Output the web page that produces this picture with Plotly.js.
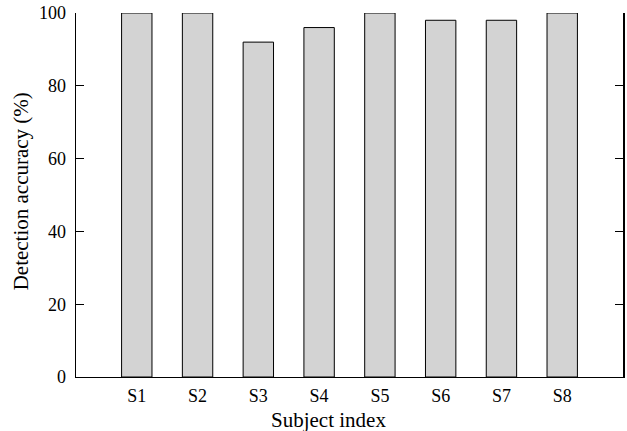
<!DOCTYPE html>
<html><head><meta charset="utf-8">
<script src="https://cdn.plot.ly/plotly-3.0.1.min.js"></script>
<style>html,body{margin:0;padding:0;background:#fff}</style>
</head><body>
<div id="chart" style="width:627px;height:431px"></div>
<script>
const subjects = ["S1","S2","S3","S4","S5","S6","S7","S8"];
const accuracy = [100,100,92,96,100,98,98,100];
const yTicks = [0,20,40,60,80,100];
const FONT = 'Liberation Serif, Times New Roman, serif';

Plotly.newPlot('chart', [{
  type: 'bar',
  x: subjects,
  y: accuracy,
  width: 0.5,
  marker: {color: '#d3d3d3', line: {color: '#000', width: 1}}
}], {
  width: 627, height: 431,
  margin: {l: 76, r: 4, t: 13, b: 54},
  paper_bgcolor: '#fff', plot_bgcolor: '#fff',
  font: {family: FONT, size: 18, color: '#000'},
  showlegend: false,
  xaxis: {
    type: 'category', range: [-1, 8],
    showline: true, linecolor: '#000', linewidth: 1,
    ticks: '', showgrid: false, zeroline: false,
    tickfont: {family: FONT, size: 18}, ticklabelstandoff: 2
  },
  yaxis: {
    range: [0, 100], tickvals: yTicks,
    showline: true, linecolor: '#000', linewidth: 1.5, mirror: 'ticks',
    ticks: 'inside', ticklen: 8, tickwidth: 1, tickcolor: '#000',
    showgrid: false, zeroline: false,
    tickfont: {family: FONT, size: 18}, ticklabelstandoff: 5
  },
  annotations: [
    {text: 'Subject index', xref: 'paper', yref: 'paper', x: 0.4625, y: 0,
     yshift: -29, xanchor: 'center', yanchor: 'top', showarrow: false,
     font: {family: FONT, size: 21}},
    {text: 'Detection accuracy (%)', xref: 'paper', yref: 'paper', x: 0, y: 0.51,
     xshift: -55, xanchor: 'center', yanchor: 'middle', textangle: -90, showarrow: false,
     font: {family: FONT, size: 21}}
  ]
}, {displayModeBar: false, staticPlot: true});
</script>
</body></html>
